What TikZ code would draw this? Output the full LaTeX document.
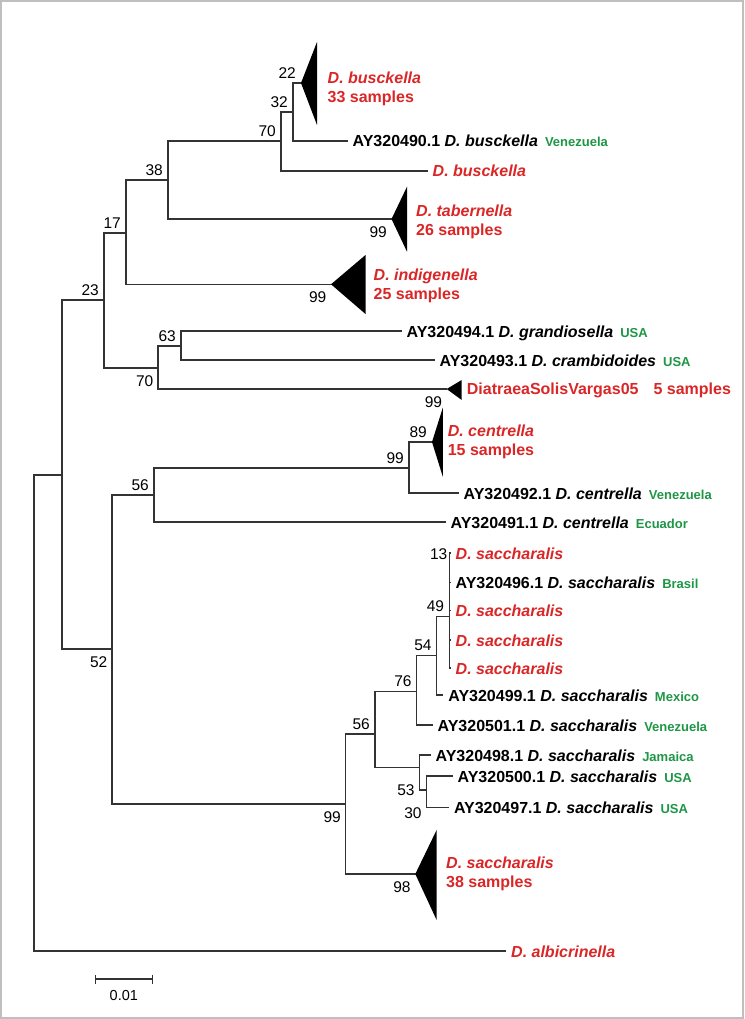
\documentclass[tikz,border=0pt]{standalone}
\usepackage{fontspec}
\setmainfont{Liberation Sans}
\usetikzlibrary{arrows.meta, calc, positioning}

\definecolor{taxred}{RGB}{218,38,38}
\definecolor{geogreen}{RGB}{30,150,70}
\newcommand{\geo}[1]{\hspace{7pt}{\color{geogreen}\fontsize{13}{14}\selectfont #1}}

\begin{document}
\begin{tikzpicture}[x=1pt, y=-1pt,
  branch/.style={line width=1.2pt, draw=black!80, line cap=rect},
  boot/.style={font=\fontsize{15.5}{16}\selectfont, inner sep=0pt},
  bootup/.style={boot, anchor=south east, xshift=-5pt, yshift=4.5pt},
  bootdown/.style={boot, anchor=north east, xshift=-4.5pt, yshift=-7.5pt},
  leaf/.style={font=\bfseries\fontsize{16}{16.5}\selectfont, inner sep=0pt,
               anchor=base west, xshift=5.5pt, yshift=-6pt},
  redleaf/.style={leaf, text=taxred},
  clade/.style={font=\bfseries\fontsize{16}{16.5}\selectfont, text=taxred,
                align=left, anchor=west, inner sep=0pt}]

\useasboundingbox (0,0) rectangle (744,1019);

% Frame
\draw[black!25, line width=1.5pt] (1,1) rectangle (743,1018);

% Internal nodes
\coordinate (root) at (34,475);
\coordinate (nA) at (62,475);
\coordinate (n23) at (104,300);
\coordinate (n17) at (126,233);
\coordinate (n38) at (168,180);
\coordinate (n70) at (281,141);
\coordinate (n32) at (293,112);
\coordinate (n70b) at (158,368);
\coordinate (n63) at (181,346);
\coordinate (n52) at (112,649);
\coordinate (n56) at (154,495);
\coordinate (n99c) at (409,468);
\coordinate (n99) at (345.5,804);
\coordinate (n56b) at (375,734);
\coordinate (nB) at (416.7,691.7);
\coordinate (nD) at (436.7,655.7);
\coordinate (nE) at (449.3,616.7);
\coordinate (nC) at (419.3,767.3);
\coordinate (nF) at (426.7,790);

% Leaf ends
\foreach \n/\x/\y in {lbus/427/171, l490/347/141, lgra/401/331, lcra/434/360,
                      l492/458/493, l491/445/522, s1/450/553, s2/450/582.3,
                      s3/450/610.7, s4/450/640, s5/450/668, lmex/442.7/695,
                      l501/432/725, l498/430/755, l500/452/776, l497/448.3/807.3,
                      lalb/505.5/951} {
    \coordinate (\n) at (\x,\y);
}

% Collapsed clades (triangle tips)
\foreach \n/\x/\y in {tbus/301/83, ttab/391.5/219, tind/331/284.3,
                      tdia/446.7/389, tcen/432/442, tsac/415.3/874} {
    \coordinate (\n) at (\x,\y);
}

% Branches
\foreach \p/\c in {root/nA, root/lalb, nA/n23, nA/n52, n23/n17, n23/n70b,
                   n17/n38, n17/tind, n38/n70, n38/ttab, n70/n32, n70/lbus,
                   n32/tbus, n32/l490, n70b/n63, n70b/tdia, n63/lgra, n63/lcra,
                   n52/n56, n52/n99, n56/n99c, n56/l491, n99c/tcen, n99c/l492,
                   n99/n56b, n99/tsac, n56b/nB, n56b/nC, nB/nD, nB/l501,
                   nD/nE, nD/lmex, nE/s1, nE/s2, nE/s3, nE/s4, nE/s5,
                   nC/l498, nC/nF, nF/l500, nF/l497} {
    \draw[branch] (\p) |- (\c);
}

% Triangles
\foreach \v/\xr/\yt/\yb in {tbus/317/42/125, ttab/407/186.7/251.7,
                            tind/365.5/255/314, tdia/461.7/380/400,
                            tcen/442.8/407.7/476.7, tsac/436.6/830/920} {
    \fill (\v) -- (\xr,\yt) -- (\xr,\yb) -- cycle;
}

% Clade labels
\node[clade] (cbus) at (327.5,88.7) {\textit{D. busckella}\\[2pt]33 samples};
\node[clade] (ctab) at (416,221.7) {\textit{D. tabernella}\\[2pt]26 samples};
\node[clade] (cind) at (373.5,286) {\textit{D. indigenella}\\[2pt]25 samples};
\node[clade] (ccen) at (447.6,442) {\textit{D. centrella}\\[2pt]15 samples};
\node[clade] (csac) at (446,874) {\textit{D. saccharalis}\\[2pt]38 samples};
\node[redleaf, xshift=14.5pt, yshift=1pt] (cdia) at (tdia) {DiatraeaSolisVargas05\hspace{15pt}5 samples};

% Leaf labels
\node[leaf] (t490) at (l490) {AY320490.1 \textit{D. busckella}\geo{Venezuela}};
\node[redleaf] (tbus2) at (lbus) {\textit{D. busckella}};
\node[leaf] (t494) at (lgra) {AY320494.1 \textit{D. grandiosella}\geo{USA}};
\node[leaf] (t493) at (lcra) {AY320493.1 \textit{D. crambidoides}\geo{USA}};
\node[leaf] (t492) at (l492) {AY320492.1 \textit{D. centrella}\geo{Venezuela}};
\node[leaf] (t491) at (l491) {AY320491.1 \textit{D. centrella}\geo{Ecuador}};
\foreach \s in {s1, s3, s4, s5} {
    \node[redleaf] (t\s) at (\s) {\textit{D. saccharalis}};
}
\node[leaf] (t496) at (s2) {AY320496.1 \textit{D. saccharalis}\geo{Brasil}};
\node[leaf] (t499) at (lmex) {AY320499.1 \textit{D. saccharalis}\geo{Mexico}};
\node[leaf] (t501) at (l501) {AY320501.1 \textit{D. saccharalis}\geo{Venezuela}};
\node[leaf] (t498) at (l498) {AY320498.1 \textit{D. saccharalis}\geo{Jamaica}};
\node[leaf] (t500) at (l500) {AY320500.1 \textit{D. saccharalis}\geo{USA}};
\node[leaf] (t497) at (l497) {AY320497.1 \textit{D. saccharalis}\geo{USA}};
\node[redleaf] (talb) at (lalb) {\textit{D. albicrinella}};

% Bootstrap values
\foreach \n/\v in {n70/70, n38/38, n17/17, n23/23, n63/63, n32/32, tbus/22,
                   tcen/89, n99c/99, n56/56, nE/49, nD/54, nB/76, n56b/56} {
    \node[bootup] (b\n) at (\n) {\v};
}
\foreach \n/\v in {ttab/99, tind/99, n70b/70, tdia/99, n52/52, n99/99, tsac/98} {
    \node[bootdown] (b\n) at (\n) {\v};
}
\node[boot, anchor=east, xshift=-2.5pt, yshift=-1.5pt] (bs1) at (s1) {13};
\node[boot, anchor=east, xshift=-4.5pt] (bnC) at (nC |- nF) {53};
\node[boot, anchor=east, xshift=-5pt, yshift=-6pt] (bnF) at (nF |- l497) {30};

% Scale bar
\coordinate (sb1) at (95,979);
\coordinate (sb2) at (152.7,979);
\draw[branch, line cap=butt, {Bar[width=9pt]}-{Bar[width=9pt]}] (sb1) -- (sb2);
\node[boot, font=\fontsize{14.5}{15}\selectfont] (sbl) at ($(sb1)!0.5!(sb2)+(0,16)$) {0.01};

\end{tikzpicture}
\end{document}
